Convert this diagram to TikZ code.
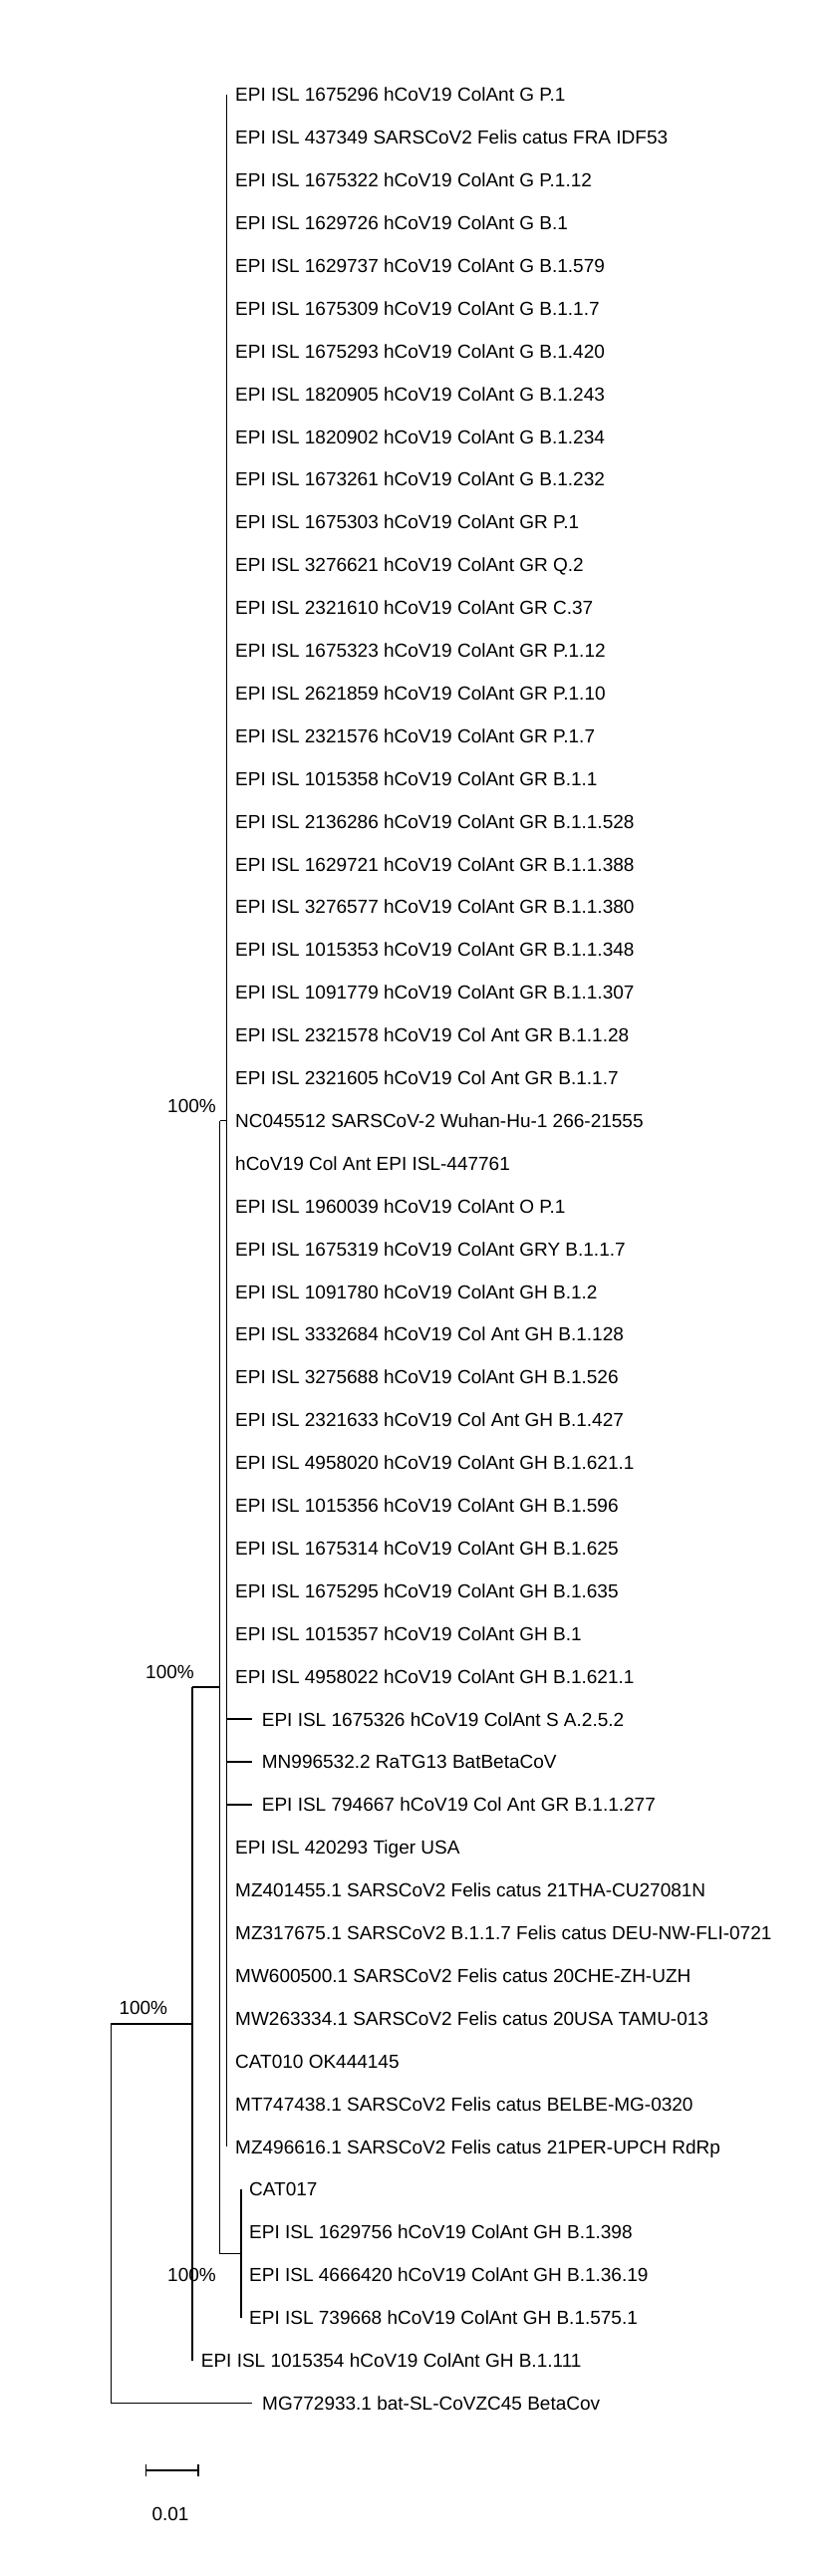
\documentclass[tikz,border=0pt]{standalone}
\usepackage{fontspec}
\setmainfont{Liberation Sans}
\tikzset{
  lab/.style={anchor=base west, inner sep=0pt, font=\fontsize{19}{22}\selectfont},
  bs/.style={anchor=base east, inner sep=0pt, font=\fontsize{19}{22}\selectfont},
  thinbr/.style={line width=1pt},
  thickbr/.style={line width=1.7pt},
}
\begin{document}
\begin{tikzpicture}[x=1pt,y=-1pt]
\fill[white] (0,0) rectangle (834,2585);
\useasboundingbox (0,0) rectangle (834,2585);
% tips 1-38 (zero length, on polytomy line)
\foreach \lab [count=\i] in {
EPI ISL 1675296 hCoV19 ColAnt G P.1,
EPI ISL 437349 SARSCoV2 Felis catus FRA IDF53,
EPI ISL 1675322 hCoV19 ColAnt G P.1.12,
EPI ISL 1629726 hCoV19 ColAnt G B.1,
EPI ISL 1629737 hCoV19 ColAnt G B.1.579,
EPI ISL 1675309 hCoV19 ColAnt G B.1.1.7,
EPI ISL 1675293 hCoV19 ColAnt G B.1.420,
EPI ISL 1820905 hCoV19 ColAnt G B.1.243,
EPI ISL 1820902 hCoV19 ColAnt G B.1.234,
EPI ISL 1673261 hCoV19 ColAnt G B.1.232,
EPI ISL 1675303 hCoV19 ColAnt GR P.1,
EPI ISL 3276621 hCoV19 ColAnt GR Q.2,
EPI ISL 2321610 hCoV19 ColAnt GR C.37,
EPI ISL 1675323 hCoV19 ColAnt GR P.1.12,
EPI ISL 2621859 hCoV19 ColAnt GR P.1.10,
EPI ISL 2321576 hCoV19 ColAnt GR P.1.7,
EPI ISL 1015358 hCoV19 ColAnt GR B.1.1,
EPI ISL 2136286 hCoV19 ColAnt GR B.1.1.528,
EPI ISL 1629721 hCoV19 ColAnt GR B.1.1.388,
EPI ISL 3276577 hCoV19 ColAnt GR B.1.1.380,
EPI ISL 1015353 hCoV19 ColAnt GR B.1.1.348,
EPI ISL 1091779 hCoV19 ColAnt GR B.1.1.307,
EPI ISL 2321578 hCoV19 Col Ant GR B.1.1.28,
EPI ISL 2321605 hCoV19 Col Ant GR B.1.1.7,
NC045512 SARSCoV-2 Wuhan-Hu-1 266-21555,
hCoV19 Col Ant EPI ISL-447761,
EPI ISL 1960039 hCoV19 ColAnt O P.1,
EPI ISL 1675319 hCoV19 ColAnt GRY B.1.1.7,
EPI ISL 1091780 hCoV19 ColAnt GH B.1.2,
EPI ISL 3332684 hCoV19 Col Ant GH B.1.128,
EPI ISL 3275688 hCoV19 ColAnt GH B.1.526,
EPI ISL 2321633 hCoV19 Col Ant GH B.1.427,
EPI ISL 4958020 hCoV19 ColAnt GH B.1.621.1,
EPI ISL 1015356 hCoV19 ColAnt GH B.1.596,
EPI ISL 1675314 hCoV19 ColAnt GH B.1.625,
EPI ISL 1675295 hCoV19 ColAnt GH B.1.635,
EPI ISL 1015357 hCoV19 ColAnt GH B.1,
EPI ISL 4958022 hCoV19 ColAnt GH B.1.621.1} {
  \coordinate (b\i) at (227.3,{95+(\i-1)*42.9});
  \node[lab] (t\i) at (236,{95+(\i-1)*42.9+6.8}) {\lab};
}
% tips 39-41 with short branches
\foreach \lab [count=\i from 39] in {
EPI ISL 1675326 hCoV19 ColAnt S A.2.5.2,
MN996532.2 RaTG13 BatBetaCoV,
EPI ISL 794667 hCoV19 Col Ant GR B.1.1.277} {
  \coordinate (b\i) at (227.3,{95+(\i-1)*42.9});
  \coordinate (e\i) at (253.3,{95+(\i-1)*42.9});
  \node[lab] (t\i) at (262.7,{95+(\i-1)*42.9+6.8}) {\lab};
  \draw[thickbr] (b\i) -- (e\i);
}
% tips 42-49
\foreach \lab [count=\i from 42] in {
EPI ISL 420293 Tiger USA,
MZ401455.1 SARSCoV2 Felis catus 21THA-CU27081N,
MZ317675.1 SARSCoV2 B.1.1.7 Felis catus DEU-NW-FLI-0721,
MW600500.1 SARSCoV2 Felis catus 20CHE-ZH-UZH,
MW263334.1 SARSCoV2 Felis catus 20USA TAMU-013,
CAT010 OK444145,
MT747438.1 SARSCoV2 Felis catus BELBE-MG-0320,
MZ496616.1 SARSCoV2 Felis catus 21PER-UPCH RdRp} {
  \coordinate (b\i) at (227.3,{95+(\i-1)*42.9});
  \node[lab] (t\i) at (236,{95+(\i-1)*42.9+6.8}) {\lab};
}
% tips 50-53
\foreach \lab [count=\i from 50] in {
CAT017,
EPI ISL 1629756 hCoV19 ColAnt GH B.1.398,
EPI ISL 4666420 hCoV19 ColAnt GH B.1.36.19,
EPI ISL 739668 hCoV19 ColAnt GH B.1.575.1} {
  \coordinate (b\i) at (241.7,{95+(\i-1)*42.9});
  \node[lab] (t\i) at (250,{95+(\i-1)*42.9+6.8}) {\lab};
}
% tip 54 and outgroup 55
\coordinate (b54) at (193.3,2368.7);
\node[lab] (t54) at (201.7,2375.5) {EPI ISL 1015354 hCoV19 ColAnt GH B.1.111};
\coordinate (b55) at (111,2411.6);
\coordinate (e55) at (253,2411.6);
\node[lab] (t55) at (263,2418.4) {MG772933.1 bat-SL-CoVZC45 BetaCov};

% internal nodes
\coordinate (P1) at (227.3,1124.6);
\coordinate (N1a) at (220.7,1124.6);
\coordinate (N1b) at (220.7,2261.5);
\coordinate (N1) at (220.7,1693);
\coordinate (N3) at (241.7,2261.5);
\coordinate (N2a) at (193.3,1693);
\coordinate (N2) at (193.3,2031);
\coordinate (R) at (111,2031);

% branches
\draw[thinbr] (b1) -- (b49);
\draw[thinbr] (N1a) -- (P1);
\draw[thinbr] (N1a) -- (N1b);
\draw[thickbr] (N1b) -- (N3);
\draw[thickbr] (b50) -- (b53);
\draw[thickbr] (N2a) -- (N1);
\draw[thickbr] (N2a) -- (b54);
\draw[thickbr] (R) -- (N2);
\draw[thinbr] (R) -- (b55);
\draw[thinbr] (b55) -- (e55);

% bootstrap values
\node[bs] (s1) at (217,1116.8) {100\%};
\node[bs] (s2) at (195,1684.8) {100\%};
\node[bs] (s3) at (168.3,2021.8) {100\%};
\node[bs] (s4) at (217,2289.8) {100\%};

% scale bar
\coordinate (sa) at (146.7,2479);
\coordinate (sb) at (199,2479);
\draw[line width=1.5pt] (sa) -- (sb);
\draw[line width=1.5pt] ([yshift=-6.3pt]sa) -- ([yshift=6.3pt]sa);
\draw[line width=1.5pt] ([yshift=-6.3pt]sb) -- ([yshift=6.3pt]sb);
\node[font=\fontsize{19}{22}\selectfont, anchor=base, inner sep=0pt] (sl) at (171,2529.8) {0.01};
\end{tikzpicture}
\end{document}
